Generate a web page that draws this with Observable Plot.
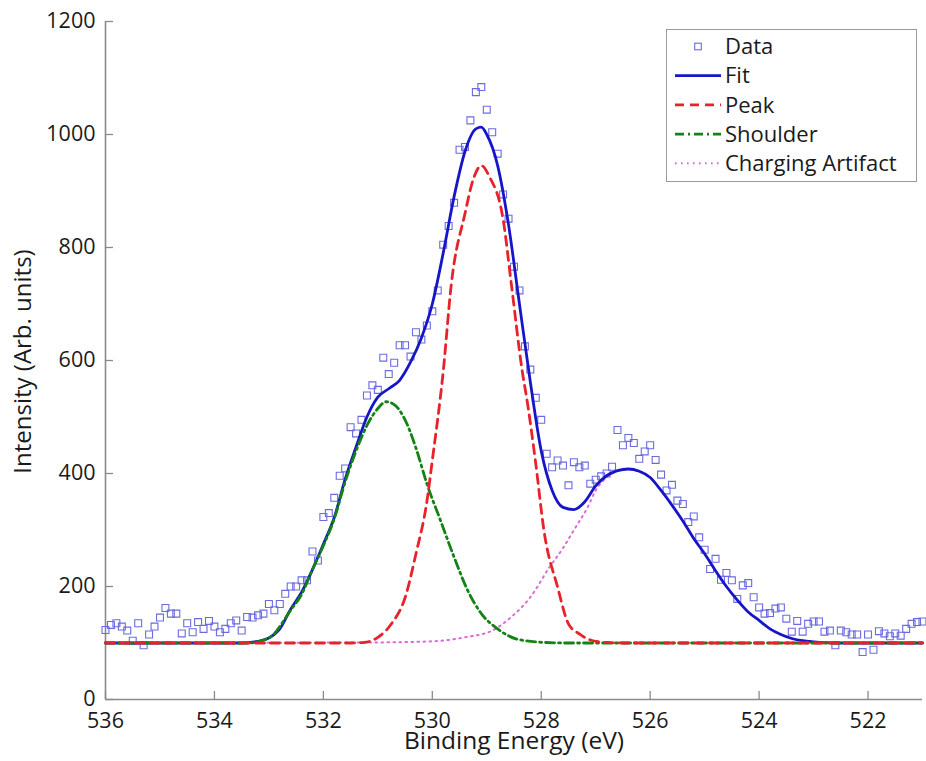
<!DOCTYPE html>
<html>
<head>
<meta charset="utf-8">
<script src="https://cdn.jsdelivr.net/npm/d3@7"></script>
<script src="https://cdn.jsdelivr.net/npm/@observablehq/plot@0.6"></script>
<style>
  html, body { margin: 0; padding: 0; background: #fff; }
  #chart { position: relative; width: 926px; height: 761px; }
  #legend { position: absolute; left: 666px; top: 29px; }
</style>
</head>
<body>
<div id="chart"></div>
<script>
// ---------------- data ----------------
const dataEnergy = [
  536.0,535.9,535.8,535.7,535.6,535.5,535.4,535.3,535.2,535.1,
  535.0,534.9,534.8,534.7,534.6,534.5,534.4,534.3,534.2,534.1,
  534.0,533.9,533.8,533.7,533.6,533.5,533.4,533.3,533.2,533.1,
  533.0,532.9,532.8,532.7,532.6,532.5,532.4,532.3,532.2,532.1,
  532.0,531.9,531.8,531.7,531.6,531.5,531.4,531.3,531.2,531.1,
  531.0,530.9,530.8,530.7,530.6,530.5,530.4,530.3,530.2,530.1,
  530.0,529.9,529.8,529.7,529.6,529.5,529.4,529.3,529.2,529.1,
  529.0,528.9,528.8,528.7,528.6,528.5,528.4,528.3,528.2,528.1,
  528.0,527.9,527.8,527.7,527.6,527.5,527.4,527.3,527.2,527.1,
  527.0,526.9,526.8,526.7,526.6,526.5,526.4,526.3,526.2,526.1,
  526.0,525.9,525.8,525.7,525.6,525.5,525.4,525.3,525.2,525.1,
  525.0,524.9,524.8,524.7,524.6,524.5,524.4,524.3,524.2,524.1,
  524.0,523.9,523.8,523.7,523.6,523.5,523.4,523.3,523.2,523.1,
  523.0,522.9,522.8,522.7,522.6,522.5,522.4,522.3,522.2,522.1,
  522.0,521.9,521.8,521.7,521.6,521.5,521.4,521.3,521.2,521.1,
  521.0
];
const dataIntensity = [
  123,132,135,129,122,104,135,96,115,129,
  145,162,152,152,117,135,119,137,125,139,
  129,119,125,135,140,122,146,145,149,152,
  169,158,169,187,200,200,211,211,262,246,
  323,330,357,396,409,482,471,495,538,556,
  548,605,576,596,627,627,607,650,637,662,
  687,724,805,838,879,973,978,1025,1075,1084,
  1044,1004,966,894,851,766,724,625,584,534,
  495,435,411,423,414,379,420,411,414,382,
  389,395,400,412,477,450,463,454,426,439,
  450,424,398,370,380,352,346,314,324,287,
  265,231,249,212,224,211,178,202,206,181,
  163,152,153,161,163,143,120,139,120,134,
  138,138,120,122,96,122,119,115,115,84,
  115,88,121,117,112,117,113,125,134,137,
  138
];

const fitEnergy = [536.0,534.0,533.5,533.2,533.0,532.8,532.6,532.4,532.2,532.0,531.8,531.6,531.4,531.2,531.0,530.8,530.6,530.4,530.2,530.0,529.8,529.6,529.4,529.2,529.1,529.0,528.8,528.6,528.4,528.2,528.0,527.8,527.6,527.4,527.2,527.0,526.8,526.6,526.4,526.2,526.0,525.8,525.6,525.4,525.2,525.0,524.8,524.6,524.4,524.2,524.0,523.8,523.6,523.4,523.2,523.0,522.6,521.0];
const fitIntensity = [100,100,100,103,109,125,160,190,230,275,322,390,447,500,535,550,565,597,640,700,790,890,970,1010,1013,1000,945,840,700,562,440,370,340,336,350,378,396,405,408,404,393,370,344,316,285,258,228,200,176,155,140,125,115,108,104,102,100,100];

const peakEnergy = [536.0,531.5,531.25,531.0,530.75,530.5,530.3,530.1,530.0,529.8,529.65,529.4,529.25,529.1,528.95,528.7,528.55,528.35,528.25,528.1,527.95,527.7,527.5,527.3,527.05,526.8,526.5,521.0];
const peakIntensity = [100,100,101,110,134,180,258,350,423,580,736,860,920,945,925,850,736,582,523,417,299,199,134,116,104,101,100,100];

const shoulderEnergy = [536.0,533.4,533.0,532.6,532.4,532.2,532.0,531.8,531.6,531.4,531.2,531.0,530.85,530.7,530.5,530.3,530.1,529.85,529.6,529.35,529.1,528.8,528.45,527.95,527.5,521.0];
const shoulderIntensity = [100,100,109,158,186,230,272,320,385,440,485,515,527,522,495,445,382,317,252,193,152,125,107,101,100,100];

const chargingEnergy = [536.0,531.0,530.0,529.4,528.9,528.55,528.2,527.85,527.6,527.4,527.15,527.0,526.8,526.6,526.4,526.2,526.0,525.8,525.6,525.4,525.2,525.0,524.8,524.6,524.4,524.2,524.0,523.8,523.6,523.4,523.2,523.0,522.6,521.0];
const chargingIntensity = [100,101,103,110,122,146,181,234,268,300,340,370,393,404,408,404,393,370,344,316,285,258,228,200,176,155,140,125,115,108,104,102,100,100];

const xTicks = [536,534,532,530,528,526,524,522];
const yTicks = [0,200,400,600,800,1000,1200];
const xDomain = [536, 521];
const yDomain = [0, 1200];

const seriesNames = ["Data","Fit","Peak","Shoulder","Charging Artifact"];
const xLabel = "Binding Energy (eV)";
const yLabel = "Intensity (Arb. units)";

// ---------------- styling ----------------
const colors = {
  data: "#6b6be0",
  fit: "#1616c8",
  peak: "#e8222a",
  shoulder: "#148214",
  charging: "#dc6ad8",
  axis: "#8a8a8a"
};
const FONT = "'Open Sans', sans-serif";

const W = 926, H = 761;
const margin = {top: 21, right: 4, bottom: 62, left: 105};
const plotW = W - margin.left - margin.right;
const plotH = H - margin.top - margin.bottom;
const tickPx = 8;
const xTickLen = tickPx * (xDomain[0] - xDomain[1]) / plotW;
const yTickLen = tickPx * (yDomain[1] - yDomain[0]) / plotH;

const zip = (xs, ys) => xs.map((x, i) => ({x, y: ys[i]}));
const pts = zip(dataEnergy, dataIntensity);
const fit = zip(fitEnergy, fitIntensity);
const peak = zip(peakEnergy, peakIntensity);
const shoulder = zip(shoulderEnergy, shoulderIntensity);
const charging = zip(chargingEnergy, chargingIntensity);
const plain = d => String(d);

const plot = Plot.plot({
  width: W,
  height: H,
  marginTop: margin.top,
  marginRight: margin.right,
  marginBottom: margin.bottom,
  marginLeft: margin.left,
  style: {fontFamily: FONT, fontSize: "21.5px", color: "#1a1a1a", background: "white", overflow: "visible"},
  x: {domain: xDomain, ticks: xTicks},
  y: {domain: yDomain, ticks: yTicks},
  marks: [
    // axes
    Plot.axisX(xTicks, {tickSize: 0, tickPadding: 13, label: null, tickFormat: plain, fontSize: 21.5, fill: "#1a1a1a"}),
    Plot.axisY(yTicks, {tickSize: 0, tickPadding: 10, label: null, tickFormat: plain, fontSize: 21.5, fill: "#1a1a1a"}),
    Plot.ruleX(xTicks, {x: d => d, y1: yDomain[0], y2: yDomain[0] + yTickLen, stroke: colors.axis, strokeWidth: 1.3}),
    Plot.ruleY(yTicks, {y: d => d, x1: xDomain[0], x2: xDomain[0] - xTickLen, stroke: colors.axis, strokeWidth: 1.3}),
    Plot.ruleY([yDomain[0]], {stroke: colors.axis, strokeWidth: 1.6}),
    Plot.ruleX([xDomain[0]], {stroke: colors.axis, strokeWidth: 1.6}),
    // data
    Plot.dot(pts, {x: "x", y: "y", symbol: "square", r: 3.9, stroke: colors.data, strokeWidth: 1.1, fill: "none"}),
    Plot.line(charging, {x: "x", y: "y", stroke: colors.charging, strokeWidth: 2, strokeDasharray: "1.6,4.4", curve: "monotone-x"}),
    Plot.line(fit, {x: "x", y: "y", stroke: colors.fit, strokeWidth: 2.8, curve: "monotone-x"}),
    Plot.line(shoulder, {x: "x", y: "y", stroke: colors.shoulder, strokeWidth: 2.8, strokeDasharray: "9,4,2,4", curve: "monotone-x"}),
    Plot.line(peak, {x: "x", y: "y", stroke: colors.peak, strokeWidth: 2.8, strokeDasharray: "9,6", curve: "monotone-x"}),
    // axis titles
    Plot.text([xLabel], {text: d => d, frameAnchor: "bottom", dy: 42, lineAnchor: "middle", textAnchor: "middle", fontSize: 24.5, fill: "#1a1a1a"}),
    Plot.text([yLabel], {text: d => d, frameAnchor: "left", dx: -82, dy: 1, rotate: -90, lineAnchor: "middle", textAnchor: "middle", fontSize: 24, fill: "#1a1a1a"})
  ]
});
document.getElementById("chart").appendChild(plot);

// ---------------- legend ----------------
const legendW = 251, legendH = 153;
const rows = [
  {name: seriesNames[0], kind: "square", color: colors.data},
  {name: seriesNames[1], kind: "line", color: colors.fit, dash: null, width: 2.8},
  {name: seriesNames[2], kind: "line", color: colors.peak, dash: "9,6", width: 2.8},
  {name: seriesNames[3], kind: "line", color: colors.shoulder, dash: "9,4,2,4", width: 2.8},
  {name: seriesNames[4], kind: "line", color: colors.charging, dash: "1.6,4.4", width: 2}
];
const lg = d3.select("#chart").append("svg")
  .attr("id", "legend")
  .attr("width", legendW).attr("height", legendH)
  .style("font-family", FONT).style("font-size", "22px");
lg.append("rect").attr("x", 0.5).attr("y", 0.5).attr("width", legendW - 1).attr("height", legendH - 1)
  .attr("fill", "white").attr("stroke", "#9a9a9a").attr("stroke-width", 1);
rows.forEach((r, i) => {
  const cy = 17.5 + i * 29.2;
  if (r.kind === "square") {
    lg.append("rect").attr("x", 32 - 3.3).attr("y", cy - 3.3).attr("width", 6.6).attr("height", 6.6)
      .attr("fill", "none").attr("stroke", r.color).attr("stroke-width", 1.1);
  } else {
    lg.append("line").attr("x1", 9).attr("x2", 55).attr("y1", cy).attr("y2", cy)
      .attr("stroke", r.color).attr("stroke-width", r.width)
      .attr("stroke-dasharray", r.dash);
  }
  lg.append("text").attr("x", 59).attr("y", cy).attr("dy", "0.35em")
    .attr("fill", "#1a1a1a").text(r.name);
});
</script>
</body>
</html>
